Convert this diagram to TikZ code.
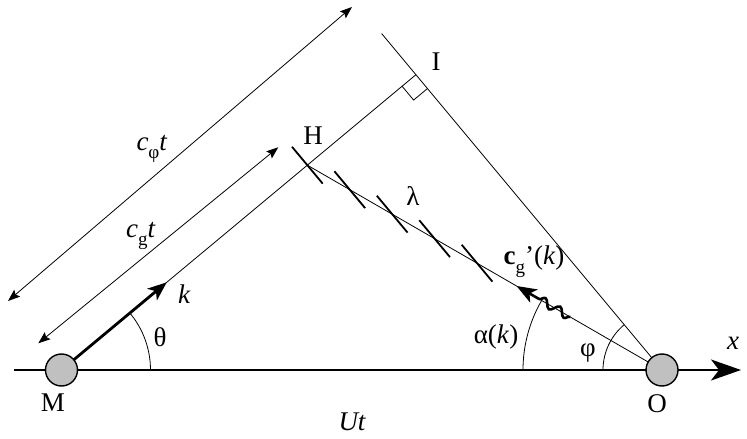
\documentclass[tikz,border=0pt]{standalone}
\usepackage{fontspec}
\setmainfont{Liberation Serif}
\usetikzlibrary{arrows.meta,calc,decorations.pathmorphing}
\newcommand\lsub[1]{\raisebox{-0.32em}{\fontsize{19}{19}\selectfont #1}}
\definecolor{ballgray}{RGB}{192,192,192}
\begin{document}
\begin{tikzpicture}[x=1pt,y=1pt,
  thinline/.style={line width=0.8pt},
  dimarrow/.style={line width=0.8pt,{Stealth[length=12pt,width=9pt,inset=2pt]}-{Stealth[length=12pt,width=9pt,inset=2pt]}},
  axisline/.style={line width=2.3pt,-{Stealth[length=30pt,width=21pt,inset=8pt]}},
  karrow/.style={line width=2.8pt,-{Stealth[length=19pt,width=15pt,inset=5pt]}},
  crest/.style={line width=1.8pt},
  wavy/.style={line width=2.6pt,decorate,decoration={snake,amplitude=4pt,segment length=17pt}},
  cgarrow/.style={line width=2.6pt,-{Stealth[length=20pt,width=15pt,inset=5pt]}},
  ball/.style={circle,draw,line width=1.4pt,fill=ballgray,minimum size=32pt,inner sep=0pt},
  lbl/.style={font=\fontsize{27}{32}\selectfont,inner sep=0pt}
]
\useasboundingbox (0,0) rectangle (747,439);
% main points
\coordinate (M) at (61.5,69);
\coordinate (O) at (662,69);
\coordinate (Kd) at ($(M)+(39.8:100)$);
\coordinate (I) at ($(M)!(O)!(Kd)$);
\coordinate (H) at ($(M)+(39.8:320)$);
\coordinate (Itop) at ($(O)!438pt!(I)$);
\coordinate (ktip) at ($(M)+(39.8:137)$);
\coordinate (xs) at (14,69);
\coordinate (xe) at (741,69);
% axis
\draw[axisline] (xs) -- (xe);
% thin construction lines
\draw[thinline] (M) -- (I);
\draw[thinline] (O) -- (Itop);
\draw[thinline] (O) -- (H);
% right angle mark
\coordinate (ra1) at ($(I)!18pt!(M)$);
\coordinate (ra3) at ($(I)!18pt!(O)$);
\coordinate (ra2) at ($(ra1)+(ra3)-(I)$);
\draw[thinline] (ra1) -- (ra2) -- (ra3);
% wave crests
\foreach \i in {0,...,4} {
  \pgfmathsetmacro\dd{\i*49}
  \coordinate (t\i) at ($(H)!\dd pt!(O)$);
  \draw[crest] ($(t\i)+(129.8:24)$) -- ($(t\i)+(-50.2:24)$);
}
% group velocity arrow with wavy tail
\coordinate (w0) at ($(O)!106pt!(H)$);
\coordinate (w1) at ($(O)!148pt!(H)$);
\coordinate (w2) at ($(O)!168pt!(H)$);
\draw[wavy] (w0) -- (w1);
\draw[cgarrow] (w1) -- (w2);
% dimension arrows
\coordinate (p1) at (8,138);
\coordinate (p2) at (352,432);
\coordinate (g1) at (38.3,95.7);
\coordinate (g2) at (278.3,291.7);
\draw[dimarrow] (p1) -- (p2);
\draw[dimarrow] (g1) -- (g2);
% angle arcs
\draw[thinline] ($(M)+(89,0)$) arc[start angle=0,end angle=39.8,radius=89];
\draw[thinline] ($(O)+(-139,0)$) arc[start angle=180,end angle=150,radius=139];
\draw[thinline] ($(O)+(-59,0)$) arc[start angle=180,end angle=129.9,radius=59];
% k arrow
\draw[karrow] (M) -- (ktip);
% balls
\node[ball] (Mb) at (M) {};
\node[ball] (Ob) at (O) {};
% labels
\node[lbl] (lM) at (53,36.5) {M};
\node[lbl] (lO) at (657,35.5) {O};
\node[lbl] (lx) at (733,96) {\itshape x};
\node[lbl] (lk) at (184,145) {\itshape k};
\node[lbl] (lth) at (160,102) {θ};
\node[lbl] (lH) at (313,303.5) {H};
\node[lbl] (lI) at (436,377.5) {I};
\node[lbl] (llam) at (413,243) {λ};
\node[lbl] (lcg) at (534,177) {\textbf{c}\lsub{g}'(\textit{k})};
\node[lbl] (lal) at (496,102) {α(\textit{k})};
\node[lbl] (lph) at (588,86) {φ};
\node[lbl] (lUt) at (352,17) {\itshape Ut};
\node[lbl] (lcp) at (152,290) {\textit{c}\lsub{φ}\textit{t}};
\node[lbl] (lcgt) at (141,203) {\textit{c}\lsub{g}\textit{t}};
\end{tikzpicture}
\end{document}
